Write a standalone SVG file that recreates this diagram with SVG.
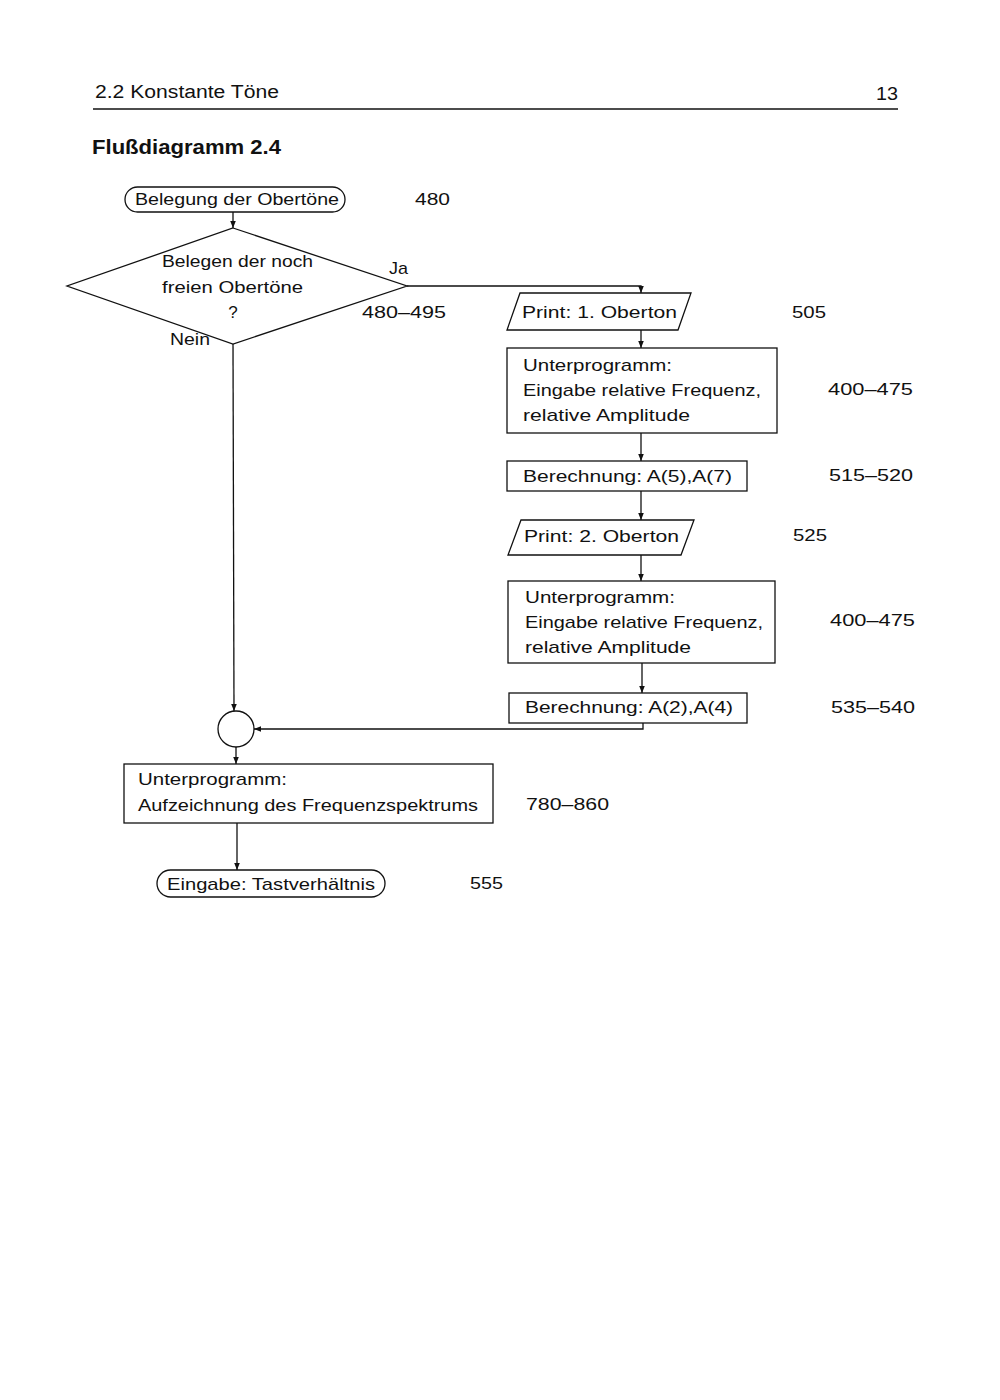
<svg xmlns="http://www.w3.org/2000/svg" width="1000" height="1400" viewBox="0 0 1000 1400">
<style>
text{font-family:"Liberation Sans",Arial,sans-serif;font-size:17px;fill:#111}
.s{fill:#fff;stroke:#111;stroke-width:1.3}
.c{fill:none;stroke:#111;stroke-width:1.3}
.h{font-size:18px}
.t{font-size:21px;font-weight:bold}
</style>
<defs>
<marker id="a" viewBox="0 0 10 10" refX="10" refY="5" markerWidth="7" markerHeight="7" markerUnits="userSpaceOnUse" orient="auto"><path d="M0,1 L10,5 L0,9 z" fill="#111"/></marker>
</defs>
<rect width="1000" height="1400" fill="#fff"/>
<g id="header">
<text class="h" x="95" y="98" textLength="184" lengthAdjust="spacingAndGlyphs">2.2  Konstante Töne</text>
<text class="h" x="876" y="100" textLength="22" lengthAdjust="spacingAndGlyphs">13</text>
<line x1="93" y1="109" x2="898" y2="109" stroke="#111" stroke-width="1.3"/>
<text class="t" x="92" y="154" textLength="189" lengthAdjust="spacingAndGlyphs">Flußdiagramm 2.4</text>
</g>
<g id="connectors">
<line class="c" x1="233" y1="212" x2="233" y2="228" marker-end="url(#a)"/>
<polyline class="c" points="407,286 641,286 641,293" marker-end="url(#a)"/>
<line class="c" x1="641" y1="330" x2="641" y2="348" marker-end="url(#a)"/>
<line class="c" x1="641" y1="433" x2="641" y2="461" marker-end="url(#a)"/>
<line class="c" x1="641" y1="491" x2="641" y2="520" marker-end="url(#a)"/>
<line class="c" x1="641" y1="555" x2="641" y2="581" marker-end="url(#a)"/>
<line class="c" x1="642" y1="663" x2="642" y2="693" marker-end="url(#a)"/>
<polyline class="c" points="643,723 643,729 254,729" marker-end="url(#a)"/>
<polyline class="c" points="233,344 234,711" marker-end="url(#a)"/>
<line class="c" x1="236" y1="747" x2="236" y2="764" marker-end="url(#a)"/>
<line class="c" x1="237" y1="823" x2="237" y2="870" marker-end="url(#a)"/>
</g>
<g id="start">
<rect class="s" x="125" y="187" width="220" height="25" rx="12.5"/>
<text x="135" y="205" textLength="204" lengthAdjust="spacingAndGlyphs">Belegung der Obertöne</text>
<text x="415" y="205" textLength="35" lengthAdjust="spacingAndGlyphs">480</text>
</g>
<g id="decision">
<polygon class="s" points="233,228 407,286 233,344 67,286"/>
<text x="162" y="267" textLength="151" lengthAdjust="spacingAndGlyphs">Belegen der noch</text>
<text x="162" y="293" textLength="141" lengthAdjust="spacingAndGlyphs">freien Obertöne</text>
<text x="233" y="318" text-anchor="middle">?</text>
<text x="389" y="274" textLength="19" lengthAdjust="spacingAndGlyphs">Ja</text>
<text x="362" y="318" textLength="84" lengthAdjust="spacingAndGlyphs">480–495</text>
<text x="170" y="345" textLength="40" lengthAdjust="spacingAndGlyphs">Nein</text>
</g>
<g id="print1">
<polygon class="s" points="520,293 691,293 678,330 507,330"/>
<text x="522" y="318" textLength="155" lengthAdjust="spacingAndGlyphs">Print: 1. Oberton</text>
<text x="792" y="318" textLength="34" lengthAdjust="spacingAndGlyphs">505</text>
</g>
<g id="sub1">
<rect class="s" x="507" y="348" width="270" height="85"/>
<text x="523" y="371" textLength="149" lengthAdjust="spacingAndGlyphs">Unterprogramm:</text>
<text x="523" y="396" textLength="238" lengthAdjust="spacingAndGlyphs">Eingabe relative Frequenz,</text>
<text x="523" y="421" textLength="167" lengthAdjust="spacingAndGlyphs">relative Amplitude</text>
<text x="828" y="395" textLength="85" lengthAdjust="spacingAndGlyphs">400–475</text>
</g>
<g id="calc1">
<rect class="s" x="507" y="461" width="240" height="30"/>
<text x="523" y="482" textLength="209" lengthAdjust="spacingAndGlyphs">Berechnung: A(5),A(7)</text>
<text x="829" y="481" textLength="84" lengthAdjust="spacingAndGlyphs">515–520</text>
</g>
<g id="print2">
<polygon class="s" points="521,520 694,520 681,555 508,555"/>
<text x="524" y="542" textLength="155" lengthAdjust="spacingAndGlyphs">Print: 2. Oberton</text>
<text x="793" y="541" textLength="34" lengthAdjust="spacingAndGlyphs">525</text>
</g>
<g id="sub2">
<rect class="s" x="508" y="581" width="267" height="82"/>
<text x="525" y="603" textLength="150" lengthAdjust="spacingAndGlyphs">Unterprogramm:</text>
<text x="525" y="628" textLength="238" lengthAdjust="spacingAndGlyphs">Eingabe relative Frequenz,</text>
<text x="525" y="653" textLength="166" lengthAdjust="spacingAndGlyphs">relative Amplitude</text>
<text x="830" y="626" textLength="85" lengthAdjust="spacingAndGlyphs">400–475</text>
</g>
<g id="calc2">
<rect class="s" x="509" y="693" width="238" height="30"/>
<text x="525" y="713" textLength="208" lengthAdjust="spacingAndGlyphs">Berechnung: A(2),A(4)</text>
<text x="831" y="713" textLength="84" lengthAdjust="spacingAndGlyphs">535–540</text>
</g>
<g id="junction">
<circle class="s" cx="236" cy="729" r="18"/>
</g>
<g id="sub3">
<rect class="s" x="124" y="764" width="369" height="59"/>
<text x="138" y="785" textLength="149" lengthAdjust="spacingAndGlyphs">Unterprogramm:</text>
<text x="138" y="811" textLength="340" lengthAdjust="spacingAndGlyphs">Aufzeichnung des Frequenzspektrums</text>
<text x="526" y="810" textLength="83" lengthAdjust="spacingAndGlyphs">780–860</text>
</g>
<g id="end">
<rect class="s" x="157" y="870" width="228" height="27" rx="13.5"/>
<text x="167" y="890" textLength="208" lengthAdjust="spacingAndGlyphs">Eingabe: Tastverhältnis</text>
<text x="470" y="889" textLength="33" lengthAdjust="spacingAndGlyphs">555</text>
</g>
</svg>
